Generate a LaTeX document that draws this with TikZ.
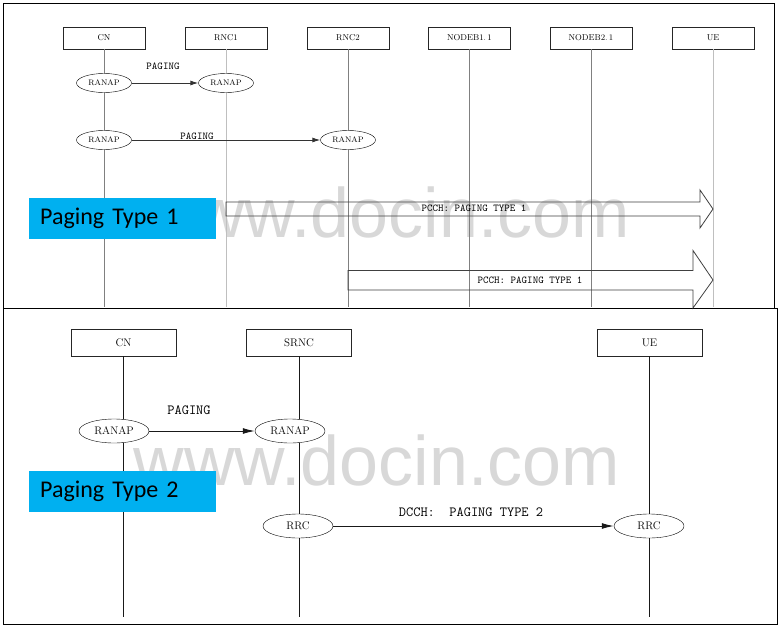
\documentclass[tikz,border=0pt]{standalone}
\usepackage{fontspec}
\newfontfamily\tagfont{Carlito}
\newfontfamily\wmfont{Liberation Sans}
\usetikzlibrary{shapes.geometric,arrows.meta}
\definecolor{tagblue}{HTML}{00B0F0}
\definecolor{wmgray}{HTML}{D8D8D8}

\begin{document}
\begin{tikzpicture}
    [ x = 1pt, y = -1pt
    , frame/.style =
      { draw, line width=1pt }
    , box/.style =
      { draw=black!85, rectangle, minimum width=82pt, minimum height=22pt
      , inner sep=0pt, font=\fontsize{8.5}{10}\selectfont }
    , bigbox/.style =
      { box, minimum width=105pt, minimum height=27pt
      , font=\fontsize{11}{13}\selectfont }
    , proto/.style =
      { draw, ellipse, fill=white, minimum width=55pt, minimum height=19pt
      , inner sep=0pt, font=\fontsize{8}{10}\selectfont }
    , bigproto/.style =
      { proto, minimum width=70pt, minimum height=24pt
      , font=\fontsize{11}{13}\selectfont }
    , life/.style =
      { draw=black!50, line width=.8pt }
    , lightlife/.style =
      { draw=black!25, line width=.8pt }
    , biglife/.style =
      { draw=black!90, line width=1pt }
    , msg/.style =
      { draw=black!80, line width=.9pt, -{Latex[length=8pt,width=5pt]} }
    , bigmsg/.style =
      { draw=black!90, line width=1pt, -{Latex[length=12pt,width=6pt]} }
    , msglbl/.style =
      { inner sep=0pt, font=\ttfamily\fontsize{10.5}{12}\selectfont }
    , bigmsglbl/.style =
      { inner sep=0pt, font=\ttfamily\fontsize{14}{16}\selectfont }
    , fatarrow/.style =
      { draw=black!75, line width=.8pt, line join=miter }
    , tag/.style =
      { fill=tagblue, anchor=north west, text width=165pt, inner xsep=11pt
      , inner ysep=0pt, minimum height=41pt, align=left
      , font=\tagfont\fontsize{24}{28}\selectfont }
    , wm/.style =
      { text=wmgray, inner sep=0pt, anchor=base east
      , font=\wmfont\fontsize{70}{74}\selectfont }
    ]
    \useasboundingbox [fill=white] (0,0) rectangle (780,627);

    \node [wm] (wm1) at (630,237) {www.docin.com};
    \node [wm] (wm2) at (620,485) {www.docin.com};

    \draw [frame] (3,3) rectangle (774,308);
    \draw [frame] (3,308) rectangle (777,624);

    % Paging Type 1
    \node [box] (cn) at (104,38) {CN};
    \node [box] (rnc1) at (226,38) {RNC1};
    \node [box] (rnc2) at (348,38) {RNC2};
    \node [box] (nb1) at (469.5,38) {NODEB1.\,1};
    \node [box] (nb2) at (591,38) {NODEB2.\,1};
    \node [box] (ue) at (713,38) {UE};

    \foreach \n in {cn,rnc2,nb1,nb2}
      \draw [life] (\n.south) -- (\n |- 0,307);
    \foreach \n in {rnc1,ue}
      \draw [lightlife] (\n.south) -- (\n |- 0,307);

    \node [proto] (cnr1) at (104,83) {RANAP};
    \node [proto] (rnc1r) at (226,83) {RANAP};
    \node [proto] (cnr2) at (104,140) {RANAP};
    \node [proto] (rnc2r) at (348,140) {RANAP};

    \draw [msg] (cnr1) -- (rnc1r);
    \draw [msg] (cnr2) -- (rnc2r);
    \node [msglbl] (pg1) at (163,66) {PAGING};
    \node [msglbl] (pg2) at (197,136) {PAGING};

    \coordinate (p1s) at (rnc1 |- 0,209);
    \coordinate (p1e) at (ue |- 0,209);
    \draw [fatarrow] (p1s) ++(0,-7) -- ++(474,0) -- ++(0,-12) -- (p1e)
      -- ++(-13,19) -- ++(0,-12) -- ++(-474,0) -- cycle;
    \node [msglbl] (pc1) at (474,208) {PCCH: PAGING TYPE 1};

    \coordinate (p2s) at (rnc2 |- 0,280);
    \coordinate (p2e) at (ue |- 0,280);
    \draw [fatarrow] (p2s) ++(0,-9.5) -- ++(345,0) -- ++(0,-20) -- (p2e)
      -- ++(-20,28) -- ++(0,-18) -- ++(-345,0) -- cycle;
    \node [msglbl] (pc2) at (530,280) {PCCH: PAGING TYPE 1};

    \node [tag] (tag1) at (29,198) {Paging Type 1};

    % Paging Type 2
    \node [bigbox] (cnb) at (123.5,342.5) {CN};
    \node [bigbox] (srnc) at (299,342.5) {SRNC};
    \node [bigbox] (ueb) at (649.5,342.5) {UE};

    \foreach \n in {cnb,srnc,ueb}
      \draw [biglife] (\n.south) -- (\n |- 0,617);

    \node [bigproto] (cnbr) at (114,431) {RANAP};
    \node [bigproto] (srncr) at (290,431) {RANAP};
    \node [bigproto] (srncc) at (298,526) {RRC};
    \node [bigproto] (uec) at (649,526) {RRC};

    \draw [bigmsg] (cnbr) -- (srncr);
    \draw [bigmsg] (srncc) -- (uec);
    \node [bigmsglbl] (pg3) at (189,410) {PAGING};
    \node [bigmsglbl] (dc) at (471,512) {DCCH:\ \ PAGING TYPE 2};

    \node [tag] (tag2) at (29,471) {Paging Type 2};
\end{tikzpicture}
\end{document}
